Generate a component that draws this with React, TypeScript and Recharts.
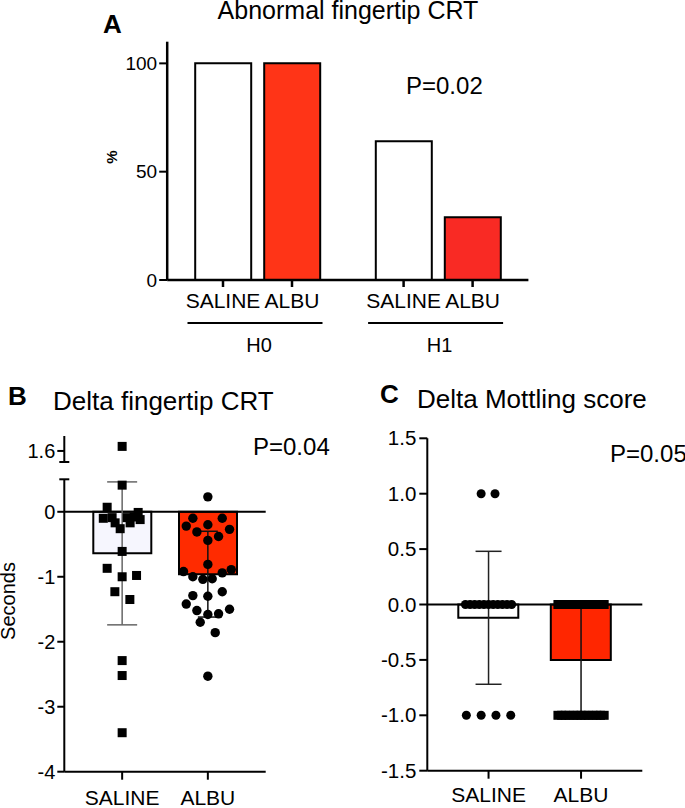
import React from 'react';
import { ComposedChart, Bar, Cell, XAxis, YAxis, Scatter, ErrorBar, ReferenceLine } from 'recharts';

const FONT = '"Liberation Sans", Arial, Helvetica, sans-serif';
const W = 685;
const H = 808;

// ---------- Panel A : Abnormal fingertip CRT (%) ----------
const aGroups = ['H0', 'H1'];
const aTreatments = ['SALINE', 'ALBU'];
const aSaline = [100, 64];
const aAlbu = [100, 29];
const aAlbuColors = ['#ff3417', '#f92a24'];
const aTicks = [0, 50, 100];

// ---------- Panel B : Delta fingertip CRT (seconds) ----------
const bCategories = ['SALINE', 'ALBU'];
const bMeans = [-0.64, -0.96];
const bSd = [1.1, 0.66];
const bTicks = [-4, -3, -2, -1, 0];
const bBreakTicks = [1.6];
const bSalineY = [1.67, 0.41, 0.07, -0.01, -0.1, -0.09, -0.09, -0.08, -0.12, -0.17, -0.17, -0.26, -0.61, -0.87, -1.0, -0.98, -1.23, -1.35, -2.29, -2.52, -3.4];
const bSalineOff = [0, 0, -0.175, 0.187, -0.22, -0.117, 0.058, 0.14, 0.21, -0.082, 0.093, -0.023, 0, -0.175, 0, 0.168, -0.085, 0.09, 0, 0, 0];
const bAlbuY = [0.23, -0.1, -0.1, -0.22, -0.2, -0.27, -0.31, -0.38, -0.44, -0.81, -0.92, -0.89, -0.94, -1.0, -1.04, -1.03, -1.23, -1.29, -1.3, -1.42, -1.5, -1.52, -1.58, -1.57, -1.7, -1.86, -2.53];
const bAlbuOff = [0, -0.175, 0.168, -0.252, 0, 0.253, -0.128, 0.125, 0, 0, -0.284, 0.273, 0.168, -0.175, -0.058, 0.051, 0.168, -0.175, 0, -0.252, 0.253, -0.128, 0, 0.125, -0.089, 0.086, 0];

// ---------- Panel C : Delta Mottling score ----------
const cCategories = ['SALINE', 'ALBU'];
const cMeans = [-0.12, -0.5];
const cSd = [0.6, 0.5];
const cTicks = [-1.5, -1, -0.5, 0, 0.5, 1, 1.5];
const cSalineY = [1, 1, 0, 0, 0, 0, 0, 0, 0, 0, 0, 0, 0, -1, -1, -1, -1];
const cSalineOff = [-0.08, 0.07, -0.25, -0.2, -0.15, -0.1, -0.05, 0, 0.05, 0.1, 0.15, 0.2, 0.25, -0.24, -0.08, 0.08, 0.24];
const cAlbuY = [0, 0, 0, 0, 0, 0, 0, 0, 0, 0, 0, 0, 0, -1, -1, -1, -1, -1, -1, -1, -1, -1, -1, -1, -1, -1];
const cAlbuOff = [-0.25, -0.21, -0.17, -0.13, -0.08, -0.04, 0, 0.04, 0.08, 0.13, 0.17, 0.21, 0.25, -0.25, -0.21, -0.17, -0.13, -0.08, -0.04, 0, 0.04, 0.08, 0.13, 0.17, 0.21, 0.25];

// ---------- derived tables ----------
const aData = aGroups.map((g, i) => ({ group: g, saline: aSaline[i], albu: aAlbu[i] }));
const bData = bCategories.map((c, i) => ({ group: c, mean: bMeans[i] }));
const cData = cCategories.map((c, i) => ({ group: c, mean: cMeans[i] }));
const pts = (ys: number[], offs: number[], idx: number) => ys.map((y, i) => ({ x: idx + offs[i], y }));
const bSalinePts = pts(bSalineY, bSalineOff, 0);
const bAlbuPts = pts(bAlbuY, bAlbuOff, 1);
const cSalinePts = pts(cSalineY, cSalineOff, 0);
const cAlbuPts = pts(cAlbuY, cAlbuOff, 1);
const errRow = (means: number[], sds: number[], i: number) => [{ x: i, y: means[i], err: sds[i] }];

const frame = (l: number, r: number, t: number, b: number, yw: number, xh: number) => ({
  left: l - yw,
  right: W - r,
  top: t,
  bottom: H - b - xh,
});

const sq = (size: number) => (p: any) => (
  <rect x={p.cx - size / 2} y={p.cy - size / 2} width={size} height={size} fill="#000" />
);
const dot = (r: number) => (p: any) => <circle cx={p.cx} cy={p.cy} r={r} fill="#000" />;
const none = () => <g />;

const YTick = (props: any) => {
  const { x, y, payload, fs, caps, fmt, tickLen, gap } = props;
  const v = payload.value;
  if (caps && caps.includes(v)) {
    return <line x1={x - 5} x2={x + 5} y1={y} y2={y} stroke="#000" strokeWidth={2} />;
  }
  return (
    <g>
      <line x1={x - tickLen} x2={x} y1={y} y2={y} stroke="#000" strokeWidth={2} />
      <text x={x - gap} y={y} dy="0.35em" textAnchor="end" fontSize={fs} fontFamily={FONT} fill="#000">
        {fmt ? fmt(v) : String(v)}
      </text>
    </g>
  );
};

const CatTick = (props: any) => {
  const { x, y, payload, fs, dy } = props;
  return (
    <g>
      <line x1={x} x2={x} y1={y} y2={y + 8} stroke="#000" strokeWidth={2} />
      <text x={x} y={y + dy} textAnchor="middle" fontSize={fs} fontFamily={FONT} fill="#000">
        {payload.value}
      </text>
    </g>
  );
};

const A_BAR = 56;
const A_GAP = 13;
const ATick = (props: any) => {
  const { x, y, payload } = props;
  const half = (A_BAR + A_GAP) / 2;
  return (
    <g>
      <line x1={x - half} x2={x - half} y1={y} y2={y + 7} stroke="#000" strokeWidth={2.5} />
      <line x1={x + half} x2={x + half} y1={y} y2={y + 7} stroke="#000" strokeWidth={2.5} />
      <text x={x - half} y={y + 28} textAnchor="middle" fontSize={21} fontFamily={FONT} fill="#000">
        {aTreatments[0]}
      </text>
      <text x={x + half} y={y + 28} textAnchor="middle" fontSize={21} fontFamily={FONT} fill="#000">
        {aTreatments[1]}
      </text>
      <line x1={x - 70} x2={x + 65} y1={y + 43} y2={y + 43} stroke="#000" strokeWidth={2} />
      <text x={x + 1.5} y={y + 72} textAnchor="middle" fontSize={20} fontFamily={FONT} fill="#000">
        {payload.value}
      </text>
    </g>
  );
};

const layer: React.CSSProperties = { position: 'absolute', left: 0, top: 0 };
const axisStyle = { stroke: '#000', strokeWidth: 2 };

export default function App() {
  return (
    <div style={{ position: 'absolute', left: 0, top: 0, width: W, height: H, background: '#fff', fontFamily: FONT }}>
      {/* Panel A */}
      <div style={layer}>
        <ComposedChart width={W} height={H} data={aData} margin={frame(167.2, 528.4, 41.7, 280, 50, 30)} barGap={A_GAP}>
          <XAxis dataKey="group" height={30} axisLine={{ stroke: '#000', strokeWidth: 2.5 }} tickLine={false} tickSize={0} tickMargin={0} interval={0} tick={(p: any) => <ATick {...p} />} />
          <YAxis width={50} domain={[0, 110]} ticks={aTicks} interval={0} axisLine={{ stroke: '#000', strokeWidth: 2.5 }} tickLine={false} tickSize={0} tickMargin={0}
            tick={(p: any) => <YTick {...p} fs={19} tickLen={8} gap={10} />} />
          <Bar dataKey="saline" barSize={A_BAR} fill="#ffffff" stroke="#000" strokeWidth={2} isAnimationActive={false} />
          <Bar dataKey="albu" barSize={A_BAR} stroke="#000" strokeWidth={2} isAnimationActive={false}>
            {aData.map((d, i) => (
              <Cell key={d.group} fill={aAlbuColors[i]} />
            ))}
          </Bar>
        </ComposedChart>
      </div>

      {/* Panel B, upper (broken axis) segment */}
      <div style={layer}>
        <ComposedChart width={W} height={H} data={bData} margin={frame(64.3, 265.7, 436, 462, 40, 0)}>
          <XAxis xAxisId="num" type="number" dataKey="x" domain={[-0.5, 1.5]} padding={{ left: 15, right: 15 }} hide />
          <YAxis width={40} domain={[1.43, 1.83]} ticks={[1.43, ...bBreakTicks]} interval={0} allowDataOverflow axisLine={axisStyle} tickLine={false} tickSize={0} tickMargin={0}
            tick={(p: any) => <YTick {...p} fs={20} tickLen={7} gap={9} caps={[1.43]} />} />
          <Scatter xAxisId="num" data={bSalinePts.filter((d) => d.y > 0.5)} dataKey="y" shape={sq(9)} isAnimationActive={false} />
        </ComposedChart>
      </div>

      {/* Panel B, main segment */}
      <div style={layer}>
        <ComposedChart width={W} height={H} data={bData} margin={frame(64.3, 265.7, 479.3, 771.7, 40, 30)}>
          <XAxis xAxisId="cat" dataKey="group" height={30} padding={{ left: 15, right: 15 }} axisLine={axisStyle} tickLine={false} tickSize={0} tickMargin={0} interval={0}
            tick={(p: any) => <CatTick {...p} fs={21} dy={33} />} />
          <XAxis xAxisId="num" type="number" dataKey="x" domain={[-0.5, 1.5]} padding={{ left: 15, right: 15 }} hide />
          <YAxis width={40} domain={[-4, 0.5]} ticks={[...bTicks, 0.5]} interval={0} allowDataOverflow axisLine={axisStyle} tickLine={false} tickSize={0} tickMargin={0}
            tick={(p: any) => <YTick {...p} fs={20} tickLen={7} gap={9} caps={[0.5]} />} />
          <Bar xAxisId="cat" dataKey="mean" barSize={58} stroke="#000" strokeWidth={2} isAnimationActive={false}>
            <Cell fill="#f6f6fe" />
            <Cell fill="#ff2b00" />
          </Bar>
          <ReferenceLine xAxisId="cat" y={0} stroke="#000" strokeWidth={2} />
          <Scatter xAxisId="num" data={errRow(bMeans, bSd, 0)} dataKey="y" shape={none} isAnimationActive={false}>
            <ErrorBar dataKey="err" direction="y" width={15} stroke="#666" strokeWidth={1.5} />
          </Scatter>
          <Scatter xAxisId="num" data={errRow(bMeans, bSd, 1)} dataKey="y" shape={none} isAnimationActive={false}>
            <ErrorBar dataKey="err" direction="y" width={10} stroke="#111" strokeWidth={1.5} />
          </Scatter>
          <Scatter xAxisId="num" data={bSalinePts.filter((d) => d.y <= 0.5)} dataKey="y" shape={sq(9)} isAnimationActive={false} />
          <Scatter xAxisId="num" data={bAlbuPts} dataKey="y" shape={dot(4.7)} isAnimationActive={false} />
        </ComposedChart>
      </div>

      {/* Panel C */}
      <div style={layer}>
        <ComposedChart width={W} height={H} data={cData} margin={frame(427.3, 642.3, 438.3, 770.7, 40, 30)}>
          <XAxis xAxisId="cat" dataKey="group" height={30} padding={{ left: 15, right: 15 }} axisLine={axisStyle} tickLine={false} tickSize={0} tickMargin={0} interval={0}
            tick={(p: any) => <CatTick {...p} fs={21} dy={31} />} />
          <XAxis xAxisId="num" type="number" dataKey="x" domain={[-0.5, 1.5]} padding={{ left: 15, right: 15 }} hide />
          <YAxis width={40} domain={[-1.5, 1.5]} ticks={cTicks} interval={0} axisLine={axisStyle} tickLine={false} tickSize={0} tickMargin={0}
            tick={(p: any) => <YTick {...p} fs={20.5} tickLen={8} gap={11} fmt={(v: number) => v.toFixed(1)} />} />
          <Bar xAxisId="cat" dataKey="mean" barSize={60} stroke="#000" strokeWidth={2} isAnimationActive={false}>
            <Cell fill="#ffffff" />
            <Cell fill="#ff2600" />
          </Bar>
          <ReferenceLine xAxisId="cat" y={0} stroke="#000" strokeWidth={2} />
          <Scatter xAxisId="num" data={errRow(cMeans, cSd, 0)} dataKey="y" shape={none} isAnimationActive={false}>
            <ErrorBar dataKey="err" direction="y" width={13} stroke="#222" strokeWidth={1.5} />
          </Scatter>
          <Scatter xAxisId="num" data={errRow(cMeans, cSd, 1)} dataKey="y" shape={none} isAnimationActive={false}>
            <ErrorBar dataKey="err" direction="y" width={13} stroke="#111" strokeWidth={1.5} />
          </Scatter>
          <Scatter xAxisId="num" data={cSalinePts} dataKey="y" shape={dot(4.5)} isAnimationActive={false} />
          <Scatter xAxisId="num" data={cAlbuPts} dataKey="y" shape={sq(9)} isAnimationActive={false} />
        </ComposedChart>
      </div>

      {/* Titles and annotations */}
      <svg width={W} height={H} style={{ ...layer, pointerEvents: 'none' }} fontFamily={FONT}>
        <text x={103} y={33} fontSize={26} fontWeight="bold">A</text>
        <text x={348} y={18.5} fontSize={25} textAnchor="middle">Abnormal fingertip CRT</text>
        <text x={117} y={157} fontSize={15} fontWeight="bold" textAnchor="middle" transform="rotate(-90 117 157)">%</text>
        <text x={406} y={94} fontSize={24}>P=0.02</text>

        <text x={8} y={405} fontSize={26} fontWeight="bold">B</text>
        <text x={53} y={410} fontSize={26}>Delta fingertip CRT</text>
        <text x={253} y={455} fontSize={24}>P=0.04</text>
        <text x={15} y={601} fontSize={20} textAnchor="middle" transform="rotate(-90 15 601)">Seconds</text>

        <text x={380} y={403} fontSize={26} fontWeight="bold">C</text>
        <text x={417} y={408} fontSize={26}>Delta Mottling score</text>
        <text x={610} y={462} fontSize={24}>P=0.05</text>
      </svg>
    </div>
  );
}
